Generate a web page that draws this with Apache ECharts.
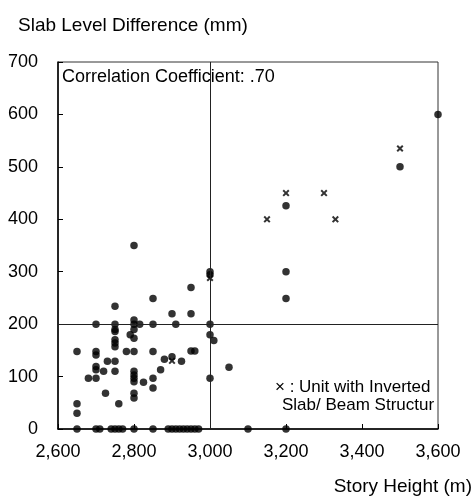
<!DOCTYPE html>
<html>
<head>
<meta charset="utf-8">
<script src="https://cdn.jsdelivr.net/npm/echarts@6/dist/echarts.min.js"></script>
<style>
  html, body { margin: 0; padding: 0; background: #fff; }
  #chart { width: 475px; height: 500px; }
</style>
</head>
<body>
<div id="chart"></div>
<script>
// story height (mm on axis, labelled m) vs slab level difference (mm)
var dotPoints = [
  [2650, 148], [2650, 48], [2650, 30], [2650, 0],
  [2680, 97],
  [2700, 200], [2700, 148], [2700, 141], [2700, 119], [2700, 113], [2700, 97], [2700, 0], [2710, 0],
  [2720, 110], [2725, 68], [2730, 129],
  [2750, 234], [2750, 200], [2750, 190], [2750, 186], [2750, 170], [2750, 164], [2750, 157],
  [2750, 129], [2750, 110], [2740, 0], [2750, 0], [2760, 0], [2770, 0],
  [2760, 48], [2780, 148], [2790, 180],
  [2800, 350], [2800, 208], [2800, 200], [2800, 190], [2800, 173], [2800, 148], [2800, 110],
  [2800, 103], [2800, 97], [2800, 90], [2800, 68], [2800, 59], [2800, 0],
  [2815, 200], [2825, 89],
  [2850, 249], [2850, 200], [2850, 148], [2850, 97], [2850, 78], [2850, 0],
  [2870, 113], [2880, 133],
  [2900, 220], [2900, 138], [2910, 200], [2925, 129],
  [2950, 270], [2950, 220], [2950, 149], [2960, 149],
  [2890, 0], [2900, 0], [2910, 0], [2920, 0], [2930, 0], [2940, 0], [2950, 0], [2960, 0], [2970, 0],
  [3000, 300], [3000, 294], [3000, 200], [3000, 180], [3000, 97], [3010, 169],
  [3050, 118], [3100, 0],
  [3200, 426], [3200, 300], [3200, 249], [3200, 0],
  [3500, 500], [3600, 600]
];
// units with inverted slab / beam structure
var crossPoints = [
  [2900, 130], [3000, 288], [3150, 400], [3200, 450], [3300, 450], [3330, 400], [3500, 535]
];
var xRefLine = 3000;
var yRefLine = 200;

var chart = echarts.init(document.getElementById("chart"));
var font = "Liberation Sans, Arial, sans-serif";
var crossPath = "path://M0,2L2,0L5,3L8,0L10,2L7,5L10,8L8,10L5,7L2,10L0,8L3,5Z";

var option = {
  animation: false,
  grid: {
    left: 58, right: 37, top: 62, bottom: 71,
    show: true, borderColor: "#333", borderWidth: 1
  },
  xAxis: {
    type: "value",
    min: 2600, max: 3600, interval: 200,
    axisLine: { lineStyle: { color: "#000", width: 1.5 } },
    axisTick: { show: true, inside: true, length: 5, lineStyle: { color: "#000" } },
    axisLabel: {
      color: "#000", fontSize: 18, fontFamily: font, margin: 14,
      formatter: function (v) { return v.toLocaleString("en-US"); }
    },
    splitLine: { show: false }
  },
  yAxis: {
    type: "value",
    min: 0, max: 700, interval: 100,
    axisLine: { show: true, lineStyle: { color: "#000", width: 1.5 } },
    axisTick: { show: true, inside: true, length: 5, lineStyle: { color: "#000" } },
    axisLabel: { color: "#000", fontSize: 18, fontFamily: font, margin: 20 },
    splitLine: { show: false }
  },
  graphic: [
    { type: "text", left: 18, top: 16,
      style: { text: "Slab Level Difference (mm)", fill: "#000", font: "19px " + font } },
    { type: "text", right: 3, top: 477,
      style: { text: "Story Height (m)", fill: "#000", font: "19px " + font } },
    { type: "text", left: 62, top: 68,
      style: { text: "Correlation Coefficient: .70", fill: "#000", font: "18px " + font } },
    { type: "text", left: 275, top: 379,
      style: { text: "\u00d7 : Unit with Inverted", fill: "#000", font: "17px " + font } },
    { type: "text", left: 282, top: 397,
      style: { text: "Slab/ Beam Structur", fill: "#000", font: "17px " + font } }
  ],
  series: [
    {
      type: "scatter",
      symbol: "circle",
      symbolSize: 7.5,
      itemStyle: { color: "#000" },
      data: dotPoints,
      markLine: {
        silent: true,
        symbol: "none",
        label: { show: false },
        lineStyle: { color: "#222", width: 1, type: "solid" },
        data: [{ xAxis: xRefLine }, { yAxis: yRefLine }]
      }
    },
    {
      type: "scatter",
      symbol: crossPath,
      symbolSize: 7,
      itemStyle: { color: "#000" },
      data: crossPoints
    }
  ]
};
chart.setOption(option);
</script>
</body>
</html>
